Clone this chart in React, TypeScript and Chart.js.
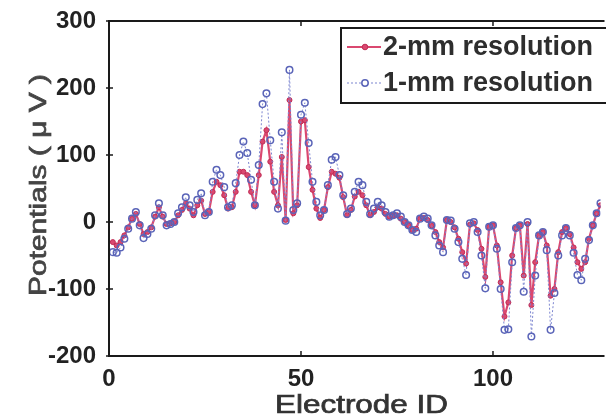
import React, { useEffect, useRef } from "react";
import { Chart, registerables } from "chart.js";

Chart.register(...registerables);

// ---- data ----
const electrodeIds: number[] = Array.from({ length: 128 }, (_, i) => i + 1);

const res2mm: number[] = [
  -30, -35, -30, -20, -8, 5, 12, -3, -18, -15,
  -8, 8, 22, 8, -3, -2, 0, 10, 18, 28,
  20, 10, 25, 32, 12, 15, 45, 60, 55, 40,
  20, 22, 45, 75, 75, 70, 45, 25, 70, 120,
  137, 90, 45, 25, 97, 3, 182, 13, 25, 150,
  152, 82, 48, 20, 6, 18, 52, 75, 72, 66,
  37, 10, 18, 38, 45, 40, 25, 10, 15, 22,
  20, 12, 8, 10, 10, 5, 0, -5, -12, -10,
  5, 6, 3, -5, -15, -30, -38, 3, 0, -8,
  -25, -45, -62, -4, -2, -12, -40, -82, -7, -5,
  -35, -90, -141, -120, -50, -9, -5, -80, -3, -124,
  -60, -20, -15, -35, -110, -100, -45, -15, -9, -18,
  -38, -60, -70, -60, -25, -5, 13, 25,
];

const res1mm: number[] = [
  -45, -46, -38, -25, -10, 5, 15, -5, -24, -18,
  -10, 10, 28, 10, -5, -3, 0, 13, 22, 37,
  25, 15, 33, 43, 10, 15, 60, 78, 70, 52,
  22, 25, 58, 100, 120, 103, 63, 25, 85, 176,
  192, 122, 60, 20, 134, 2, 227, 18, 28, 160,
  178, 118, 60, 30, 10, 18, 55, 93, 97, 70,
  40, 12, 20, 45, 60, 55, 30, 12, 20, 30,
  25, 15, 8, 10, 13, 8, 0, -5, -12, -15,
  5, 8, 5, -5, -20, -35, -45, 3, 2, -10,
  -30, -55, -79, -2, 0, -15, -50, -99, -7, -5,
  -40, -100, -161, -160, -60, -9, -5, -104, 0, -171,
  -80, -20, -15, -42, -161, -106, -50, -20, -9, -20,
  -46, -79, -87, -55, -27, -5, 13, 28,
];

const xTickValues: number[] = [0, 50, 100];
const yTickValues: number[] = [-200, -100, 0, 100, 200, 300];
const seriesLabels: string[] = ["2-mm resolution", "1-mm resolution"];
const xTitle = "Electrode ID";
const yTitle = "Potentials ( \u03bc V )";

const RED = "#da4870";
const RED_DARK = "#c02d55";
const BLUE = "#5a64b8";
const BLUE_LINE = "#7d86d0";
const FONT = "'Liberation Sans', Arial, sans-serif";

const decorPlugin = {
  id: "decor",
  afterDraw(chart: any) {
    const { ctx, chartArea: a, scales } = chart;
    ctx.save();
    // frame
    ctx.strokeStyle = "#1a1a1a";
    ctx.lineWidth = 2;
    ctx.beginPath();
    ctx.moveTo(a.right + 4, a.top);
    ctx.lineTo(a.left, a.top);
    ctx.lineTo(a.left, a.bottom);
    ctx.lineTo(a.right + 4, a.bottom);
    ctx.stroke();
    // tick marks
    ctx.lineWidth = 1.5;
    ctx.beginPath();
    for (const v of yTickValues) {
      const y = scales.y.getPixelForValue(v);
      ctx.moveTo(a.left - 3, y);
      ctx.lineTo(a.left + 4, y);
    }
    for (const v of xTickValues) {
      const x = scales.x.getPixelForValue(v);
      ctx.moveTo(x, a.bottom);
      ctx.lineTo(x, a.bottom - 5);
      ctx.moveTo(x, a.top);
      ctx.lineTo(x, a.top + 5);
    }
    ctx.stroke();

    // axis titles (stretched to match the reference's wide lettering)
    ctx.fillStyle = "#333333";
    ctx.strokeStyle = "#333333";
    ctx.lineWidth = 0.7;
    ctx.font = `25px ${FONT}`;
    ctx.textBaseline = "alphabetic";
    ctx.textAlign = "left";
    let w = ctx.measureText(xTitle).width;
    ctx.save();
    ctx.translate(275, 413);
    ctx.scale(173 / w, 1);
    ctx.fillText(xTitle, 0, 0);
    ctx.strokeText(xTitle, 0, 0);
    ctx.restore();

    ctx.fillStyle = "#444444";
    ctx.strokeStyle = "#444444";
    ctx.font = `24px ${FONT}`;
    w = ctx.measureText(yTitle).width;
    ctx.save();
    ctx.translate(46, 296);
    ctx.rotate(-Math.PI / 2);
    ctx.scale(222 / w, 1);
    ctx.fillText(yTitle, 0, 0);
    ctx.strokeText(yTitle, 0, 0);
    ctx.restore();

    // legend
    const bx = 341, by = 28, bh = 75;
    ctx.fillStyle = "#ffffff";
    ctx.fillRect(bx, by, 400, bh);
    ctx.strokeStyle = "#1a1a1a";
    ctx.lineWidth = 2;
    ctx.strokeRect(bx, by, 400, bh);

    const rows = [47, 83];
    // red entry
    ctx.strokeStyle = RED;
    ctx.lineWidth = 2;
    ctx.setLineDash([]);
    ctx.beginPath();
    ctx.moveTo(347, rows[0]);
    ctx.lineTo(381, rows[0]);
    ctx.stroke();
    ctx.fillStyle = RED;
    ctx.strokeStyle = RED_DARK;
    ctx.lineWidth = 1;
    ctx.beginPath();
    ctx.arc(365, rows[0], 2.8, 0, Math.PI * 2);
    ctx.fill();
    ctx.stroke();
    // blue entry
    ctx.strokeStyle = BLUE_LINE;
    ctx.lineWidth = 1;
    ctx.setLineDash([2, 2]);
    ctx.beginPath();
    ctx.moveTo(347, rows[1]);
    ctx.lineTo(381, rows[1]);
    ctx.stroke();
    ctx.setLineDash([]);
    ctx.fillStyle = "#ffffff";
    ctx.strokeStyle = BLUE;
    ctx.lineWidth = 1.5;
    ctx.beginPath();
    ctx.arc(365, rows[1], 3.2, 0, Math.PI * 2);
    ctx.fill();
    ctx.stroke();

    ctx.fillStyle = "#2e2e2e";
    ctx.font = `bold 27px ${FONT}`;
    ctx.textBaseline = "middle";
    ctx.textAlign = "left";
    ctx.fillText(seriesLabels[0], 383, rows[0] + 1);
    ctx.fillText(seriesLabels[1], 383, rows[1] + 1);
    ctx.restore();
  },
};

export default function App() {
  const canvasRef = useRef<HTMLCanvasElement | null>(null);

  useEffect(() => {
    const canvas = canvasRef.current;
    if (!canvas) return;
    const chart = new Chart(canvas, {
      type: "line",
      data: {
        datasets: [
          {
            label: seriesLabels[0],
            data: electrodeIds.map((id, i) => ({ x: id, y: res2mm[i] })),
            borderColor: RED,
            borderWidth: 2.2,
            pointRadius: 2.5,
            pointBackgroundColor: RED,
            pointBorderColor: RED_DARK,
            pointBorderWidth: 1,
            tension: 0,
            order: 1,
          },
          {
            label: seriesLabels[1],
            data: electrodeIds.map((id, i) => ({ x: id, y: res1mm[i] })),
            borderColor: BLUE_LINE,
            borderWidth: 1,
            borderDash: [2, 2],
            pointRadius: 3.3,
            pointBackgroundColor: "rgba(0,0,0,0)",
            pointBorderColor: BLUE,
            pointBorderWidth: 1.5,
            tension: 0,
            order: 0,
          },
        ],
      },
      options: {
        animation: false,
        responsive: false,
        maintainAspectRatio: false,
        layout: { padding: { left: 0, top: 21, right: 0, bottom: 0 } },
        plugins: {
          legend: { display: false },
          tooltip: { enabled: false },
        },
        scales: {
          x: {
            type: "linear",
            min: 0,
            max: 128,
            grid: { display: false },
            border: { display: false },
            afterBuildTicks: (scale: any) => {
              scale.ticks = xTickValues.map((v) => ({ value: v }));
            },
            afterFit: (scale: any) => {
              scale.height = 60;
            },
            ticks: {
              color: "#222",
              padding: 1,
              maxRotation: 0,
              font: { family: FONT, size: 24, weight: "bold" },
            },
          },
          y: {
            type: "linear",
            min: -200,
            max: 300,
            grid: { display: false },
            border: { display: false },
            afterBuildTicks: (scale: any) => {
              scale.ticks = yTickValues.map((v) => ({ value: v }));
            },
            afterFit: (scale: any) => {
              scale.width = 109;
            },
            ticks: {
              color: "#222",
              padding: 5,
              font: { family: FONT, size: 24, weight: "bold" },
            },
          },
        },
      },
      plugins: [decorPlugin],
    });
    return () => chart.destroy();
  }, []);

  return (
    <div style={{ position: "fixed", left: 0, top: 0, width: 606, height: 416, background: "#fff" }}>
      <canvas ref={canvasRef} width={606} height={416} style={{ display: "block", width: 606, height: 416 }} />
    </div>
  );
}
